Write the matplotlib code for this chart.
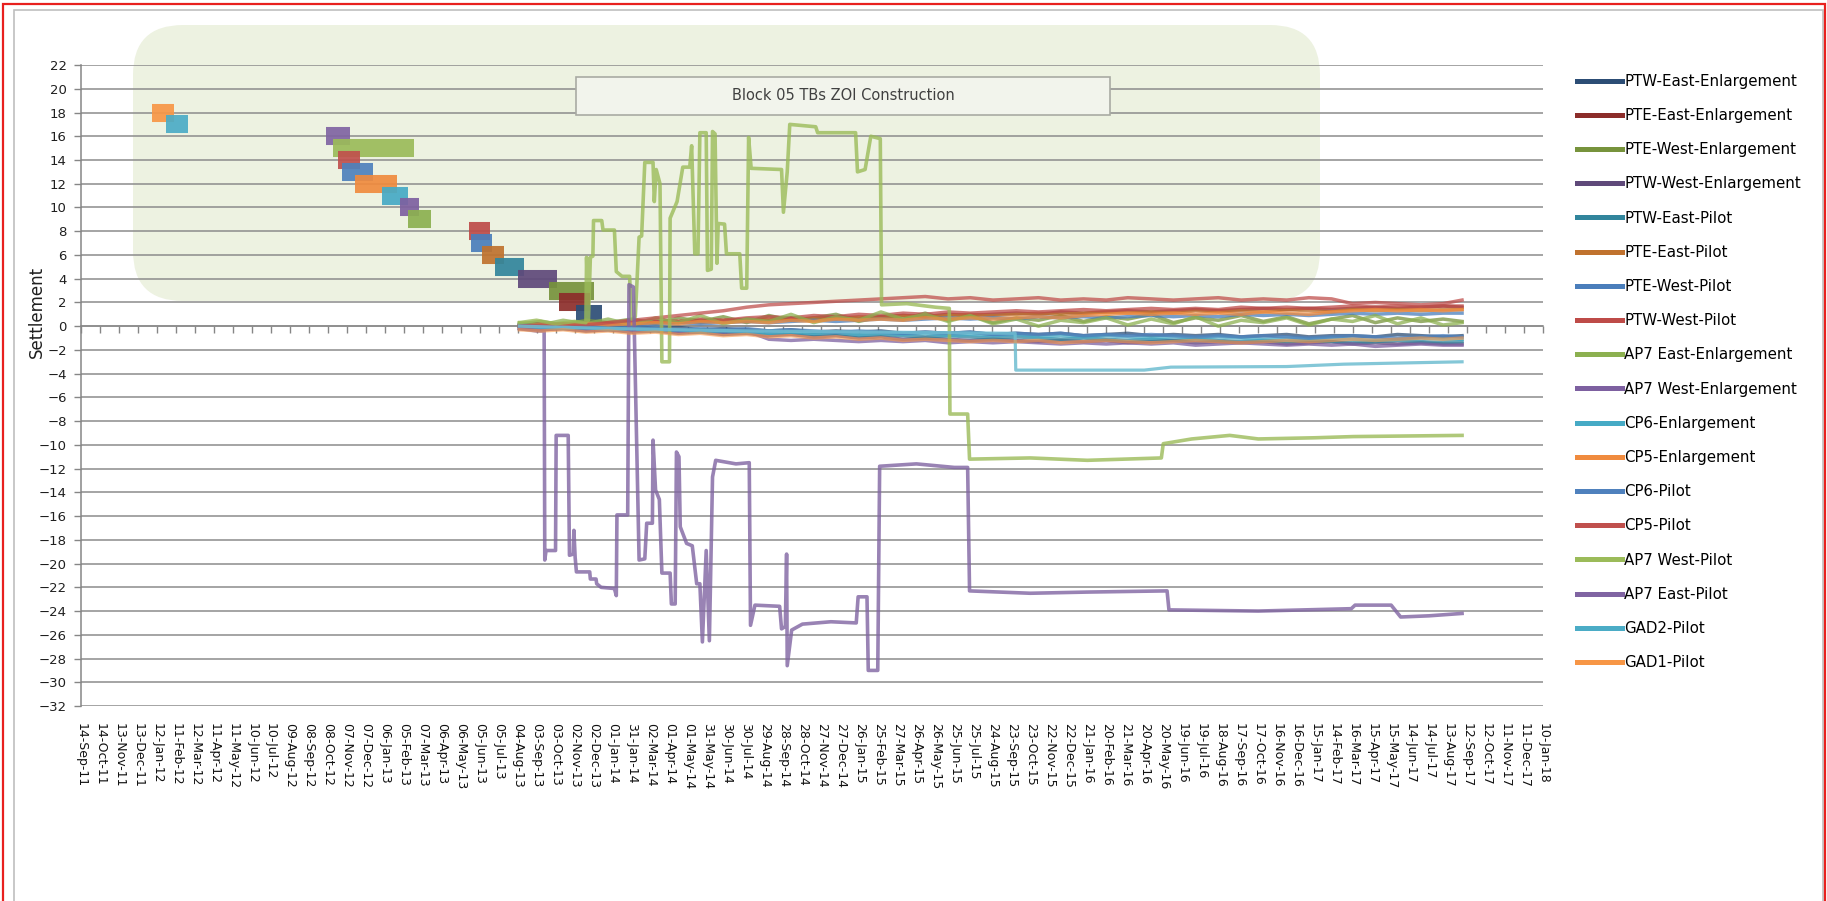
import numpy as np
import pandas as pd
import matplotlib
matplotlib.use('Agg')
import matplotlib.pyplot as plt
import matplotlib.dates as mdates
from matplotlib.lines import Line2D
from matplotlib.patches import FancyBboxPatch, Rectangle
from matplotlib.ticker import NullFormatter

# series names in legend order and their colours
names = ['PTW-East-Enlargement', 'PTE-East-Enlargement', 'PTE-West-Enlargement',
         'PTW-West-Enlargement', 'PTW-East-Pilot', 'PTE-East-Pilot', 'PTE-West-Pilot',
         'PTW-West-Pilot', 'AP7 East-Enlargement', 'AP7 West-Enlargement',
         'CP6-Enlargement', 'CP5-Enlargement', 'CP6-Pilot', 'CP5-Pilot',
         'AP7 West-Pilot', 'AP7 East-Pilot', 'GAD2-Pilot', 'GAD1-Pilot']
colors = ['#2C4D75', '#8C2D2A', '#77933C', '#5F497A', '#31859C', '#C0722E',
          '#4A7EBB', '#BE4B48', '#8CB050', '#7D60A0', '#46AAC5', '#F08B3E',
          '#4F81BD', '#C0504D', '#9BBB59', '#8064A2', '#4BACC6', '#F79646']

# ZOI construction periods, one bar per series (level = series number)
zoi_start = ['2013-11-04', '2013-10-09', '2013-09-23', '2013-08-04', '2013-06-30', '2013-06-09',
             '2013-05-22', '2013-05-19', '2013-02-12', '2013-01-30', '2013-01-02', '2012-11-21',
             '2012-10-31', '2012-10-25', '2012-10-17', '2012-10-05', '2012-01-27', '2012-01-04']
zoi_end = ['2013-12-16', '2013-11-26', '2013-12-03', '2013-10-06', '2013-08-14', '2013-07-13',
           '2013-06-25', '2013-06-22', '2013-03-21', '2013-03-02', '2013-02-12', '2013-01-25',
           '2012-12-19', '2012-11-28', '2013-02-22', '2012-11-12', '2012-03-01', '2012-02-09']
zoi_level = [1, 2, 3, 4, 5, 6, 7, 8, 9, 10, 11, 12, 13, 14, 15, 16, 17, 18]

# monitoring readings of the small-movement series
minor_dates = ['2013-08-07', '2013-09-10', '2013-10-15', '2013-11-20', '2013-12-25', '2014-02-01',
               '2014-03-10', '2014-04-15', '2014-05-20', '2014-06-25', '2014-08-01', '2014-09-05',
               '2014-10-10', '2014-11-15', '2014-12-20', '2015-01-25', '2015-03-01', '2015-04-05',
               '2015-05-10', '2015-06-15', '2015-07-20', '2015-08-25', '2015-10-01', '2015-11-05',
               '2015-12-10', '2016-01-15', '2016-02-20', '2016-03-25', '2016-05-01', '2016-06-05',
               '2016-07-10', '2016-08-15', '2016-09-20', '2016-10-25', '2016-12-01', '2017-01-05',
               '2017-02-10', '2017-03-15', '2017-04-20', '2017-05-25', '2017-07-01', '2017-08-05',
               '2017-09-04']
ptw_east_enl = [0.1, 0.2, 0.0, 0.1, -0.1, 0.0, -0.2, -0.1, -0.3, -0.2,
                -0.3, -0.4, -0.3, -0.5, -0.4, -0.5, -0.4, -0.6, -0.5, -0.6,
                -0.5, -0.7, -0.6, -0.7, -0.6, -0.8, -0.7, -0.6, -0.8, -0.7,
                -0.8, -0.7, -0.9, -0.8, -0.7, -0.9, -0.8, -0.8, -0.9, -0.7,
                -0.8, -0.9, -0.8]
pte_east_enl = [0.0, 0.1, 0.2, 0.1, 0.3, 0.2, 0.4, 0.3, 0.5, 0.4,
                0.6, 0.5, 0.7, 0.6, 0.8, 0.7, 0.8, 0.9, 0.8, 1.0,
                0.9, 1.0, 1.1, 1.0, 1.2, 1.1, 1.2, 1.3, 1.2, 1.3,
                1.4, 1.3, 1.4, 1.5, 1.4, 1.5, 1.4, 1.5, 1.6, 1.5,
                1.6, 1.7, 1.6]
pte_west_enl = [0.2, 0.4, 0.1, 0.5, 0.3, 0.6, 0.2, 0.7, 0.4, 0.8,
                0.3, 0.9, 0.5, 0.7, 1.0, 0.4, 0.8, 0.6, 1.1, 0.5,
                0.9, 0.3, 0.7, 0.5, 0.9, 0.4, 0.8, 0.6, 1.0, 0.3,
                0.7, 0.5, 0.9, 0.4, 0.8, 0.2, 0.6, 0.9, 0.3, 0.7,
                0.4, 0.6, 0.4]
ptw_west_enl = [-0.2, -0.3, -0.2, -0.4, -0.3, -0.5, -0.4, -0.6, -0.5, -0.7,
                -0.6, -0.8, -0.7, -0.9, -0.8, -1.0, -0.9, -1.1, -1.0, -1.1,
                -1.2, -1.1, -1.2, -1.3, -1.2, -1.3, -1.2, -1.4, -1.3, -1.2,
                -1.4, -1.3, -1.4, -1.3, -1.5, -1.4, -1.3, -1.5, -1.4, -1.5,
                -1.4, -1.5, -1.5]
ptw_east_pil = [0.0, -0.1, 0.0, -0.2, -0.1, -0.3, -0.2, -0.4, -0.3, -0.5,
                -0.4, -0.6, -0.5, -0.7, -0.6, -0.8, -0.7, -0.8, -0.9, -0.8,
                -0.9, -1.0, -0.9, -1.0, -1.1, -1.0, -1.1, -1.2, -1.1, -1.2,
                -1.1, -1.2, -1.3, -1.2, -1.3, -1.2, -1.3, -1.4, -1.3, -1.2,
                -1.3, -1.4, -1.3]
pte_east_pil = [0.1, 0.0, 0.2, 0.1, 0.3, 0.2, 0.3, 0.4, 0.3, 0.5,
                0.4, 0.6, 0.5, 0.7, 0.6, 0.8, 0.7, 0.9, 0.8, 0.9,
                1.0, 0.9, 1.0, 1.1, 1.0, 1.1, 1.2, 1.1, 1.2, 1.1,
                1.3, 1.2, 1.3, 1.2, 1.4, 1.3, 1.2, 1.4, 1.3, 1.4,
                1.3, 1.4, 1.4]
pte_west_pil = [0.0, 0.1, 0.0, 0.2, 0.1, 0.2, 0.1, 0.3, 0.2, 0.3,
                0.4, 0.3, 0.4, 0.5, 0.4, 0.5, 0.6, 0.5, 0.6, 0.7,
                0.6, 0.7, 0.6, 0.8, 0.7, 0.8, 0.7, 0.8, 0.9, 0.8,
                0.9, 0.8, 1.0, 0.9, 1.0, 0.9, 1.0, 1.1, 1.0, 1.1,
                1.0, 1.1, 1.1]
ptw_west_pil = [0.0, 0.2, 0.1, 0.3, 0.2, 0.4, 0.5, 0.4, 0.6, 0.5,
                0.7, 0.8, 0.7, 0.9, 0.8, 1.0, 0.9, 1.1, 1.0, 1.2,
                1.1, 1.2, 1.3, 1.2, 1.3, 1.4, 1.3, 1.4, 1.5, 1.4,
                1.5, 1.4, 1.6, 1.5, 1.6, 1.5, 1.6, 1.7, 1.6, 1.7,
                1.6, 1.7, 1.7]
ap7_east_enl = [0.3, 0.1, 0.5, 0.2, 0.6, 0.1, 0.7, 0.3, 0.9, 0.2,
                0.6, 0.4, 1.0, 0.3, 0.8, 0.5, 1.2, 0.6, 1.0, 0.4,
                0.9, 0.2, 0.6, 0.0, 0.5, 0.3, 0.7, 0.1, 0.6, 0.2,
                0.8, 0.0, 0.5, 0.3, 0.7, 0.1, 0.6, 0.4, 0.9, 0.2,
                0.7, 0.1, 0.3]
ap7_west_enl = [-0.2, -0.3, -0.2, -0.4, -0.3, -0.4, -0.3, -0.5, -0.4, -0.5,
                -0.4, -1.1, -1.2, -1.1, -1.2, -1.3, -1.2, -1.3, -1.2, -1.4,
                -1.3, -1.4, -1.3, -1.4, -1.5, -1.4, -1.5, -1.4, -1.5, -1.4,
                -1.6, -1.5, -1.4, -1.5, -1.6, -1.5, -1.6, -1.5, -1.7, -1.6,
                -1.5, -1.6, -1.6]
cp6_enl = [0.0, -0.1, -0.2, -0.1, -0.3, -0.2, -0.4, -0.3, -0.5, -0.4,
           -0.5, -0.6, -0.5, -0.6, -0.5, -0.7, -0.6, -0.7, -0.6, -0.8,
           -0.7, -0.8, -0.7, -0.9, -0.8, -0.9, -0.8, -0.9, -1.0, -0.9,
           -1.0, -0.9, -1.0, -1.1, -1.0, -1.1, -1.0, -1.1, -1.2, -1.1,
           -1.0, -1.1, -1.1]
cp5_enl = [0.0, 0.1, 0.0, 0.2, 0.1, 0.2, 0.3, 0.2, 0.4, 0.3,
           0.4, 0.3, 0.5, 0.4, 0.6, 0.5, 0.6, 0.5, 0.7, 0.6,
           0.7, 0.6, 0.7, 0.8, 0.7, 0.9, 1.0, 1.1, 1.0, 1.1,
           1.0, 1.1, 1.0, 1.2, 1.1, 1.0, 1.2, 1.3, 1.4, 1.3,
           1.4, 1.3, 1.4]
cp6_pil = [0.1, 0.0, -0.1, 0.0, -0.2, -0.1, -0.2, -0.3, -0.2, -0.3,
           -0.2, -0.4, -0.3, -0.4, -0.5, -0.4, -0.5, -0.6, -0.5, -0.6,
           -0.5, -0.7, -0.6, -0.7, -0.6, -0.8, -0.7, -0.8, -0.7, -0.8,
           -0.9, -0.8, -0.9, -0.8, -0.9, -1.0, -0.9, -0.8, -0.9, -1.0,
           -0.9, -0.8, -0.9]
cp5_pil = [0.0, 0.1, 0.2, 0.1, 0.3, 0.5, 0.7, 0.9, 1.1, 1.3,
           1.6, 1.8, 1.9, 2.0, 2.1, 2.2, 2.3, 2.4, 2.5, 2.3,
           2.4, 2.2, 2.3, 2.4, 2.2, 2.3, 2.2, 2.4, 2.3, 2.2,
           2.3, 2.4, 2.2, 2.3, 2.2, 2.4, 2.3, 1.9, 2.0, 1.9,
           1.8, 1.9, 2.2]
gad1_pil = [-0.3, -0.4, -0.3, -0.5, -0.4, -0.6, -0.5, -0.7, -0.6, -0.8,
            -0.7, -0.9, -0.8, -1.0, -0.9, -1.1, -1.0, -1.2, -1.1, -1.2,
            -1.3, -1.2, -1.3, -1.2, -1.4, -1.3, -1.2, -1.3, -1.4, -1.3,
            -1.2, -1.3, -1.4, -1.3, -1.2, -1.3, -1.2, -1.1, -1.2, -1.1,
            -1.0, -1.1, -1.0]

# GAD2 pilot
gad2_dates = ['2013-08-07', '2014-01-01', '2014-08-01', '2015-03-01', '2015-09-29', '2015-09-30',
              '2016-04-20', '2016-06-01', '2016-12-01', '2017-03-01', '2017-06-01', '2017-09-04']
gad2_pil = [0.0, -0.2, -0.4, -0.5, -0.6, -3.7, -3.7, -3.45, -3.4, -3.2, -3.1, -3.0]

# AP7 West pilot
ap7w_dates = ['2013-08-07', '2013-09-03', '2013-10-03', '2013-11-02', '2013-11-20', '2013-11-21',
              '2013-11-24', '2013-11-27', '2013-12-01', '2013-12-02', '2013-12-15', '2013-12-17',
              '2014-01-04', '2014-01-07', '2014-01-16', '2014-01-28', '2014-01-31', '2014-02-06',
              '2014-02-12', '2014-02-16', '2014-02-21', '2014-03-06', '2014-03-08', '2014-03-11',
              '2014-03-17', '2014-03-20', '2014-04-01', '2014-04-02', '2014-04-13', '2014-04-22',
              '2014-05-03', '2014-05-06', '2014-05-11', '2014-05-16', '2014-05-19', '2014-05-29',
              '2014-05-31', '2014-06-06', '2014-06-08', '2014-06-12', '2014-06-15', '2014-06-17',
              '2014-06-27', '2014-06-30', '2014-07-21', '2014-07-24', '2014-08-01', '2014-08-04',
              '2014-08-08', '2014-09-25', '2014-09-28', '2014-10-04', '2014-10-08', '2014-11-18',
              '2014-11-21', '2015-01-20', '2015-01-23', '2015-02-04', '2015-02-13', '2015-02-28',
              '2015-03-02', '2015-04-11', '2015-05-26', '2015-06-17', '2015-06-18', '2015-07-16',
              '2015-07-19', '2015-10-23', '2016-01-21', '2016-05-17', '2016-05-20', '2016-07-04',
              '2016-09-02', '2016-10-17', '2017-01-15', '2017-03-16', '2017-09-04']
ap7w_pil = [0.3, 0.5, 0.2, 0.4, 0.3, 5.8,
            0.5, 5.8, 5.9, 8.9, 8.9, 8.1,
            8.1, 4.6, 4.2, 4.2, 0.6, 0.8,
            7.5, 7.6, 13.8, 13.8, 10.5, 13.2,
            12.0, -3.0, -3.0, 9.1, 10.5, 13.4,
            13.4, 15.2, 6.1, 6.1, 16.3, 16.3,
            4.7, 4.8, 16.4, 16.2, 5.3, 8.65,
            8.6, 6.1, 6.1, 3.2, 3.2, 15.9,
            13.3, 13.2, 9.6, 13.0, 17.0, 16.8,
            16.3, 16.3, 13.0, 13.2, 16.0, 15.8,
            1.8, 1.9, 1.6, 1.5, -7.4, -7.4,
            -11.2, -11.1, -11.3, -11.1, -9.9, -9.5,
            -9.2, -9.5, -9.4, -9.3, -9.2]

# AP7 East pilot
ap7e_dates = ['2013-08-07', '2013-09-03', '2013-09-15', '2013-09-16', '2013-09-18', '2013-10-03',
              '2013-10-04', '2013-10-23', '2013-10-25', '2013-10-31', '2013-11-01', '2013-11-03',
              '2013-11-05', '2013-11-26', '2013-11-27', '2013-12-06', '2013-12-07', '2013-12-14',
              '2014-01-04', '2014-01-07', '2014-01-08', '2014-01-25', '2014-01-27', '2014-02-03',
              '2014-02-12', '2014-02-21', '2014-02-24', '2014-03-05', '2014-03-06', '2014-03-10',
              '2014-03-16', '2014-03-20', '2014-04-02', '2014-04-04', '2014-04-10', '2014-04-12',
              '2014-04-16', '2014-04-18', '2014-04-28', '2014-05-07', '2014-05-14', '2014-05-19',
              '2014-05-23', '2014-05-29', '2014-06-03', '2014-06-08', '2014-06-13', '2014-07-15',
              '2014-08-05', '2014-08-07', '2014-08-14', '2014-09-22', '2014-09-25', '2014-10-01',
              '2014-10-03', '2014-10-04', '2014-10-11', '2014-10-28', '2014-12-12', '2015-01-21',
              '2015-01-24', '2015-02-07', '2015-02-09', '2015-02-24', '2015-02-27', '2015-04-26',
              '2015-06-25', '2015-07-16', '2015-07-19', '2015-10-23', '2016-01-21', '2016-05-26',
              '2016-05-29', '2016-10-17', '2017-03-13', '2017-03-19', '2017-05-15', '2017-05-30',
              '2017-07-14', '2017-09-04']
ap7e_pil = [-0.2, -0.4, -0.4, -19.7, -18.9, -18.9,
            -9.2, -9.2, -19.3, -19.2, -17.2, -19.5,
            -20.7, -20.7, -21.3, -21.3, -21.7, -22.0,
            -22.1, -22.7, -15.9, -15.9, 3.5, 3.3,
            -19.7, -19.6, -16.6, -16.6, -9.6, -13.8,
            -14.6, -20.8, -20.8, -23.4, -23.4, -10.6,
            -11.0, -16.9, -18.3, -18.5, -21.7, -21.7,
            -26.6, -18.9, -26.5, -12.7, -11.3, -11.6,
            -11.5, -25.2, -23.5, -23.6, -25.5, -25.3,
            -19.2, -28.6, -25.6, -25.1, -24.9, -25.0,
            -22.8, -22.8, -29.0, -29.0, -11.8, -11.6,
            -11.9, -11.9, -22.3, -22.5, -22.4, -22.3,
            -23.9, -24.0, -23.8, -23.5, -23.5, -24.5,
            -24.4, -24.2]

minor_series = [ptw_east_enl, pte_east_enl, pte_west_enl, ptw_west_enl, ptw_east_pil,
                pte_east_pil, pte_west_pil, ptw_west_pil, ap7_east_enl, ap7_west_enl,
                cp6_enl, cp5_enl, cp6_pil, cp5_pil]

y_min, y_max = -32, 22
x_first, x_last = '2011-09-14', '2018-01-10'

fig = plt.figure(figsize=(18.27, 9.01), dpi=100)
ax = fig.add_axes([0.0442, 0.2164, 0.8004, 0.7114])
ax.set_axisbelow(True)

# construction windows drawn as thick bars, top ones first
for i in range(len(zoi_level) - 1, -1, -1):
    ax.plot(pd.to_datetime([zoi_start[i], zoi_end[i]]), [zoi_level[i], zoi_level[i]],
            color=colors[i], lw=13, alpha=0.92, solid_capstyle='butt', zorder=2)

md = pd.to_datetime(minor_dates)
for i, vals in enumerate(minor_series):
    ax.plot(md, vals, color=colors[i], lw=2.5, alpha=0.75, zorder=3)
ax.plot(pd.to_datetime(ap7w_dates), ap7w_pil, color=colors[14], lw=2.6, alpha=0.8, zorder=3)
ax.plot(pd.to_datetime(ap7e_dates), ap7e_pil, color=colors[15], lw=2.6, alpha=0.8, zorder=3)
ax.plot(pd.to_datetime(gad2_dates), gad2_pil, color='#6FBDD1', lw=2.3, alpha=0.85, zorder=3)
ax.plot(md, gad1_pil, color=colors[17], lw=2.5, alpha=0.6, zorder=3)

ax.set_ylim(y_min, y_max)
ax.set_xlim(mdates.date2num(pd.Timestamp(x_first)), mdates.date2num(pd.Timestamp(x_last)))
tick_dates = pd.date_range(x_first, x_last, freq='30D')
tick_nums = mdates.date2num(tick_dates.to_pydatetime())
ax.set_xticks(tick_nums)
ax.set_xticklabels([d.strftime('%d-%b-%y') for d in tick_dates], rotation=-90, fontsize=9)
ax.tick_params(axis='x', length=0, pad=12, colors='#111111')
ax.set_yticks(np.arange(y_min, y_max + 1, 2))
ax.tick_params(axis='y', length=5, width=1, color='#868686', labelsize=9.5,
               labelcolor='#1f1f1f', pad=5)
ax.yaxis.grid(True, color='#8c8c8c', lw=1.1)
for s in ['top', 'right', 'bottom']:
    ax.spines[s].set_visible(False)
ax.spines['left'].set_color('#868686')
ax.spines['left'].set_linewidth(1.1)

# horizontal axis crossing at zero, with downward tick marks
sec = ax.secondary_xaxis((0 - y_min) / (y_max - y_min))
sec.set_alignment('bottom')
sec.set_xticks(tick_nums)
sec.xaxis.set_major_formatter(NullFormatter())
sec.tick_params(axis='x', direction='out', length=5, width=1, color='#868686',
                labelbottom=False, labeltop=False)
sec.spines['bottom'].set_color('#868686')
sec.spines['bottom'].set_linewidth(1.1)

# shaded construction region and its caption box
shade = FancyBboxPatch((1.33, 6.0), 11.87, 2.76, boxstyle='round,pad=0,rounding_size=0.5',
                       transform=fig.dpi_scale_trans, facecolor='#EDF2E1', edgecolor='none',
                       zorder=0.2, clip_on=False)
ax.add_patch(shade)
cap = Rectangle((5.76, 7.86), 5.34, 0.38, transform=fig.dpi_scale_trans,
                facecolor='#F2F4EC', edgecolor='#A9ABA3', lw=1.2, zorder=5, clip_on=False)
ax.add_patch(cap)
ax.text(8.43, 8.05, 'Block 05 TBs ZOI Construction', transform=fig.dpi_scale_trans,
        ha='center', va='center', fontsize=10.5, color='#404040', zorder=6)

fig.text(0.02, 0.654, 'Settlement', rotation=90, ha='center', va='center',
         fontsize=12, color='#1f1f1f')

handles = [Line2D([0], [0], color=c, lw=3.6) for c in colors]
fig.legend(handles, names, loc='upper left', bbox_to_anchor=(0.8632, 0.918),
           frameon=False, fontsize=10.8, handlelength=3.0, handletextpad=0.15,
           labelspacing=1.28, borderpad=0, borderaxespad=0)

# chart frames
fig.add_artist(Rectangle((14 / 1827, -0.02), 1809 / 1827, 1.02 - 10 / 901,
                         transform=fig.transFigure, fill=False, edgecolor='#BFBFBF', lw=1.2))
fig.add_artist(Rectangle((3 / 1827, -0.02), 1822 / 1827, 1.02 - 4 / 901,
                         transform=fig.transFigure, fill=False, edgecolor='#E8201E', lw=1.6))

fig.savefig('out.png', dpi=100)
